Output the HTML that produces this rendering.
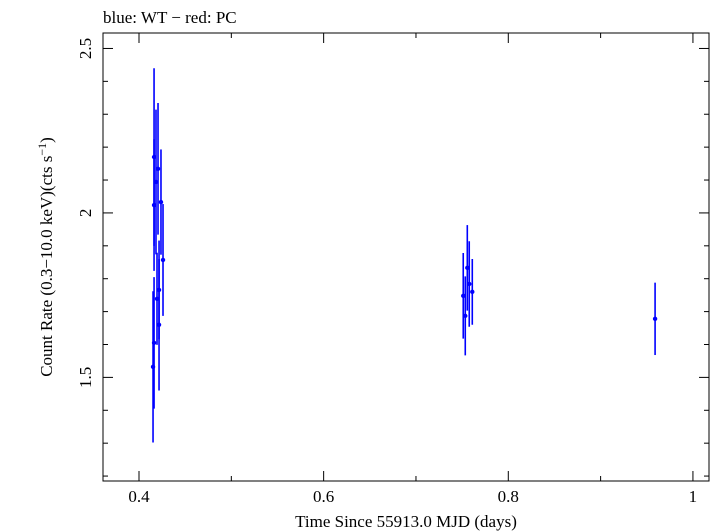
<!DOCTYPE html>
<html><head><meta charset="utf-8"><style>
body{margin:0;background:#fff}
svg{display:block;font-family:"Liberation Serif",serif}
</style></head><body>
<svg id="c" width="711" height="532">
<rect x="103" y="33" width="606" height="448" fill="none" stroke="#000" stroke-width="1"/>
<text x="103" y="23" font-size="17">blue: WT − red: PC</text>
<text x="406" y="527" font-size="17" text-anchor="middle">Time Since 55913.0 MJD (days)</text>
<text transform="translate(52,257) rotate(-90)" font-size="17" text-anchor="middle">Count Rate (0.3−10.0 keV)(cts s<tspan dy="-6" font-size="12">−1</tspan><tspan dy="6">)</tspan></text>
<g id="ax"></g><g id="marks"></g>
</svg>
<script>
const times=[0.4163,0.4206,0.4184,0.4163,0.4238,0.4260,0.4217,0.4195,0.4217,0.4163,0.4152,0.7556,0.7577,0.7610,0.7512,0.7534,0.959];
const rates=[2.170,2.134,2.094,2.024,2.033,1.857,1.766,1.739,1.660,1.605,1.532,1.833,1.784,1.760,1.748,1.687,1.678];
const errors=[0.27,0.20,0.22,0.20,0.16,0.17,0.15,0.14,0.20,0.20,0.23,0.13,0.13,0.10,0.13,0.12,0.11];
const xTicks=[0.4,0.6,0.8,1.0];
const xTickLabels=["0.4","0.6","0.8","1"];
const yTicks=[1.5,2,2.5];
const yTickLabels=["1.5","2","2.5"];
const L=103,R=709,T=33,B=481;
const X0=0.361,X1=1.0174,Y0=1.185,Y1=2.547;
const sx=v=>L+(v-X0)/(X1-X0)*(R-L);
const sy=v=>B-(v-Y0)/(Y1-Y0)*(B-T);
const NS="http://www.w3.org/2000/svg";
const ax=document.getElementById('ax'),mk=document.getElementById('marks');
function ln(p,x1,y1,x2,y2,c,w){const e=document.createElementNS(NS,'line');e.setAttribute('x1',x1);e.setAttribute('y1',y1);e.setAttribute('x2',x2);e.setAttribute('y2',y2);e.setAttribute('stroke',c);e.setAttribute('stroke-width',w);p.appendChild(e);return e;}
function tx(x,y,s,a){const e=document.createElementNS(NS,'text');e.setAttribute('x',x);e.setAttribute('y',y);e.setAttribute('font-size','17');e.setAttribute('text-anchor',a);e.textContent=s;ax.appendChild(e);return e;}
for(let k=4;k<=10;k++){const v=k/10;const x=sx(v);const maj=k%2===0;const l=maj?10:5;
const t1=ln(ax,x,B,x,B-l,'#000',1);


const t2=ln(ax,x,T,x,T+l,'#000',1);

}
xTicks.forEach((v,i)=>{const t=tx(sx(v),502,xTickLabels[i],'middle');

});
for(let k=12;k<=25;k++){const v=k/10;const y=sy(v);const maj=k%5===0;const l=maj?10:5;
const t1=ln(ax,L,y,L+l,y,'#000',1);


const t2=ln(ax,R,y,R-l,y,'#000',1);

}
yTicks.forEach((v,i)=>{const t=tx(0,0,yTickLabels[i],'middle');
t.setAttribute('transform',`translate(91,${sy(v)}) rotate(-90)`);

});
times.forEach((t,i)=>{const x=sx(t),y=sy(rates[i]);
const e=ln(mk,x,sy(rates[i]+errors[i]),x,sy(rates[i]-errors[i]),'#0000ff',1.6);


const c=document.createElementNS(NS,'circle');c.setAttribute('cx',x);c.setAttribute('cy',y);c.setAttribute('r',2.2);c.setAttribute('fill','#0000ff');


mk.appendChild(c);});
</script>
</body></html>
